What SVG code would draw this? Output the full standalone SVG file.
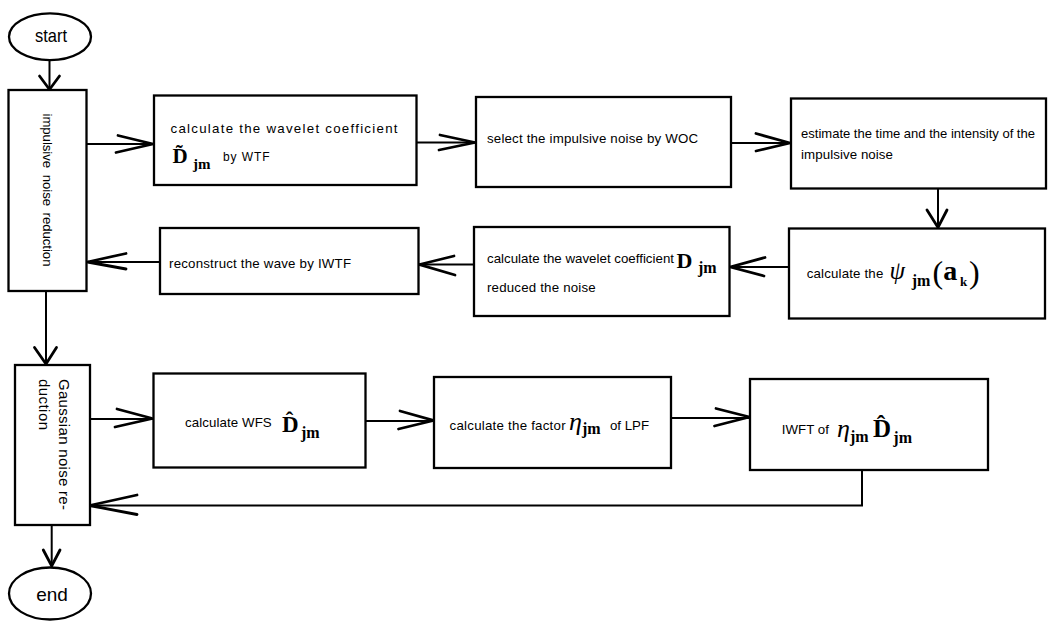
<svg xmlns="http://www.w3.org/2000/svg" width="1051" height="621" viewBox="0 0 1051 621">
<style>
.box{fill:#fff;stroke:#000;stroke-width:2.3}
.ln{fill:none;stroke:#000;stroke-width:2}
.hd{fill:none;stroke:#000;stroke-width:2.8;stroke-linejoin:miter;stroke-linecap:round}
.t{font-family:"Liberation Sans",Arial,sans-serif;font-size:13.3px;fill:#000}
.m{font-family:"Liberation Serif","Times New Roman",serif;font-weight:bold;fill:#000}
.g{font-family:"Liberation Serif","Times New Roman",serif;font-style:italic;fill:#000}
</style>
<rect width="1051" height="621" fill="#fff"/>
<g id="connectors">
<line class="ln" x1="49.5" y1="60" x2="49.5" y2="89"/>
<polyline class="hd" points="39.5,76 49.5,89.5 59.5,76"/>
<line class="ln" x1="86" y1="144" x2="153" y2="144"/>
<polyline class="hd" points="118,135.5 153,144 116,152.5"/>
<line class="ln" x1="416" y1="142.5" x2="475" y2="142.5"/>
<polyline class="hd" points="440,135 475,142.5 439,150"/>
<line class="ln" x1="731" y1="143" x2="790" y2="143"/>
<polyline class="hd" points="756,133.5 790,143 756,151"/>
<line class="ln" x1="938" y1="188" x2="938" y2="228"/>
<polyline class="hd" points="927,210 938,227.5 947,210"/>
<line class="ln" x1="789" y1="267" x2="730" y2="267"/>
<polyline class="hd" points="765,257.5 730.5,267 764,276"/>
<line class="ln" x1="474" y1="264.5" x2="419" y2="264.5"/>
<polyline class="hd" points="454,256 419.5,264.5 455,275"/>
<line class="ln" x1="160" y1="262" x2="87" y2="262"/>
<polyline class="hd" points="126,253.5 87.5,262 126,269"/>
<line class="ln" x1="46" y1="291" x2="46" y2="364"/>
<polyline class="hd" points="34.5,347.5 46,364 56.5,347.5"/>
<line class="ln" x1="90" y1="419" x2="153" y2="419"/>
<polyline class="hd" points="117,409 152.5,418.5 115,427"/>
<line class="ln" x1="365.5" y1="421" x2="434" y2="421"/>
<polyline class="hd" points="400,411 433.5,420.5 398.5,429"/>
<line class="ln" x1="671" y1="418" x2="750" y2="418"/>
<polyline class="hd" points="716,408.5 749.5,417 714.5,426"/>
<polyline class="ln" points="862,470 862,505.5 90,505.5"/>
<polyline class="hd" points="137,495 89.5,505.5 137,514.5"/>
<line class="ln" x1="51.7" y1="525" x2="51.7" y2="566"/>
<polyline class="hd" points="43.3,550 51.7,566 60,550"/>
</g>
<g id="start">
<ellipse class="box" cx="50" cy="36.8" rx="41" ry="23.4"/>
<text class="t" x="35" y="41.7" style="font-size:19px" textLength="32" lengthAdjust="spacingAndGlyphs">start</text>
</g>
<g id="impulsive">
<rect class="box" x="8.5" y="90" width="78" height="201"/>
<text class="t" transform="translate(42.5,113.5) rotate(90)" style="font-size:13.2px" textLength="153" lengthAdjust="spacing" word-spacing="3">impulsive noise reduction</text>
</g>
<g id="box1">
<rect class="box" x="154" y="95.5" width="262.5" height="89.5"/>
<text class="t" x="170.5" y="133" textLength="227" lengthAdjust="spacing">calculate the wavelet coefficient</text>
<text class="m" x="172.5" y="163.3" style="font-size:21px">D&#x303;</text>
<text class="m" x="193" y="168.5" style="font-size:15px">jm</text>
<text class="t" x="223" y="161" style="font-size:12px" textLength="46.5" lengthAdjust="spacing">by WTF</text>
</g>
<g id="box2">
<rect class="box" x="476" y="97" width="255" height="90"/>
<text class="t" x="487" y="143.3" textLength="211" lengthAdjust="spacing">select the impulsive noise by WOC</text>
</g>
<g id="box3">
<rect class="box" x="791" y="98.5" width="255" height="90"/>
<text class="t" x="801" y="138.3" textLength="234" lengthAdjust="spacingAndGlyphs">estimate the time and the intensity of the</text>
<text class="t" x="801" y="159.3" textLength="92" lengthAdjust="spacing">impulsive noise</text>
</g>
<g id="box4">
<rect class="box" x="789" y="228.5" width="256" height="90"/>
<text class="t" x="806.7" y="277.7" textLength="76.6" lengthAdjust="spacing">calculate the</text>
<text class="g" x="889.5" y="278.5" style="font-size:25px">ψ</text>
<text class="m" x="911.7" y="286" style="font-size:16px">jm</text>
<text class="g" x="932.5" y="282.5" style="font-size:32px;font-style:normal">(</text>
<text class="m" x="943.3" y="280" style="font-size:28px">a</text>
<text class="m" x="960" y="286" style="font-size:13px">k</text>
<text class="g" x="969" y="282.5" style="font-size:32px;font-style:normal">)</text>
</g>
<g id="box5">
<rect class="box" x="474" y="227" width="255.5" height="89"/>
<text class="t" x="487" y="263.3" textLength="187" lengthAdjust="spacing">calculate the wavelet coefficient</text>
<text class="m" x="676.5" y="267.5" style="font-size:22px">D</text>
<text class="m" x="698" y="273.3" style="font-size:16px">jm</text>
<text class="t" x="487" y="291.7" textLength="108.7" lengthAdjust="spacing">reduced the noise</text>
</g>
<g id="box6">
<rect class="box" x="160" y="228" width="258.5" height="66"/>
<text class="t" x="169" y="267.8" textLength="182" lengthAdjust="spacing">reconstruct the wave by IWTF</text>
</g>
<g id="gaussian">
<rect class="box" x="15" y="365" width="75" height="160"/>
<text class="t" transform="translate(59,379) rotate(90)" style="font-size:15px" textLength="131" lengthAdjust="spacing">Gaussian noise re-</text>
<text class="t" transform="translate(39,379) rotate(90)" style="font-size:15px" textLength="51" lengthAdjust="spacing">duction</text>
</g>
<g id="box7">
<rect class="box" x="153.5" y="373.5" width="212" height="94"/>
<text class="t" x="185" y="426.7" textLength="86.7" lengthAdjust="spacing">calculate WFS</text>
<text class="m" x="282" y="431.7" style="font-size:23px">D&#x302;</text>
<text class="m" x="301" y="438.3" style="font-size:16px">jm</text>
</g>
<g id="box8">
<rect class="box" x="434" y="377" width="237" height="91"/>
<text class="t" x="449.6" y="430" textLength="116" lengthAdjust="spacing">calculate the factor</text>
<text class="g" x="569" y="430" style="font-size:26px">η</text>
<text class="m" x="582" y="434.3" style="font-size:16px">jm</text>
<text class="t" x="610" y="430" textLength="39" lengthAdjust="spacing">of LPF</text>
</g>
<g id="box9">
<rect class="box" x="750" y="379" width="238" height="91"/>
<text class="t" x="781.7" y="434" textLength="47.3" lengthAdjust="spacing">IWFT of</text>
<text class="g" x="837" y="437" style="font-size:26px">η</text>
<text class="m" x="850" y="441.7" style="font-size:16px">jm</text>
<text class="m" x="873" y="436.7" style="font-size:25px">D&#x302;</text>
<text class="m" x="893.3" y="443.3" style="font-size:16px">jm</text>
</g>
<g id="end">
<ellipse class="box" cx="50" cy="593.5" rx="41" ry="26"/>
<text class="t" x="52" y="600.7" style="font-size:19px" text-anchor="middle">end</text>
</g>
</svg>
